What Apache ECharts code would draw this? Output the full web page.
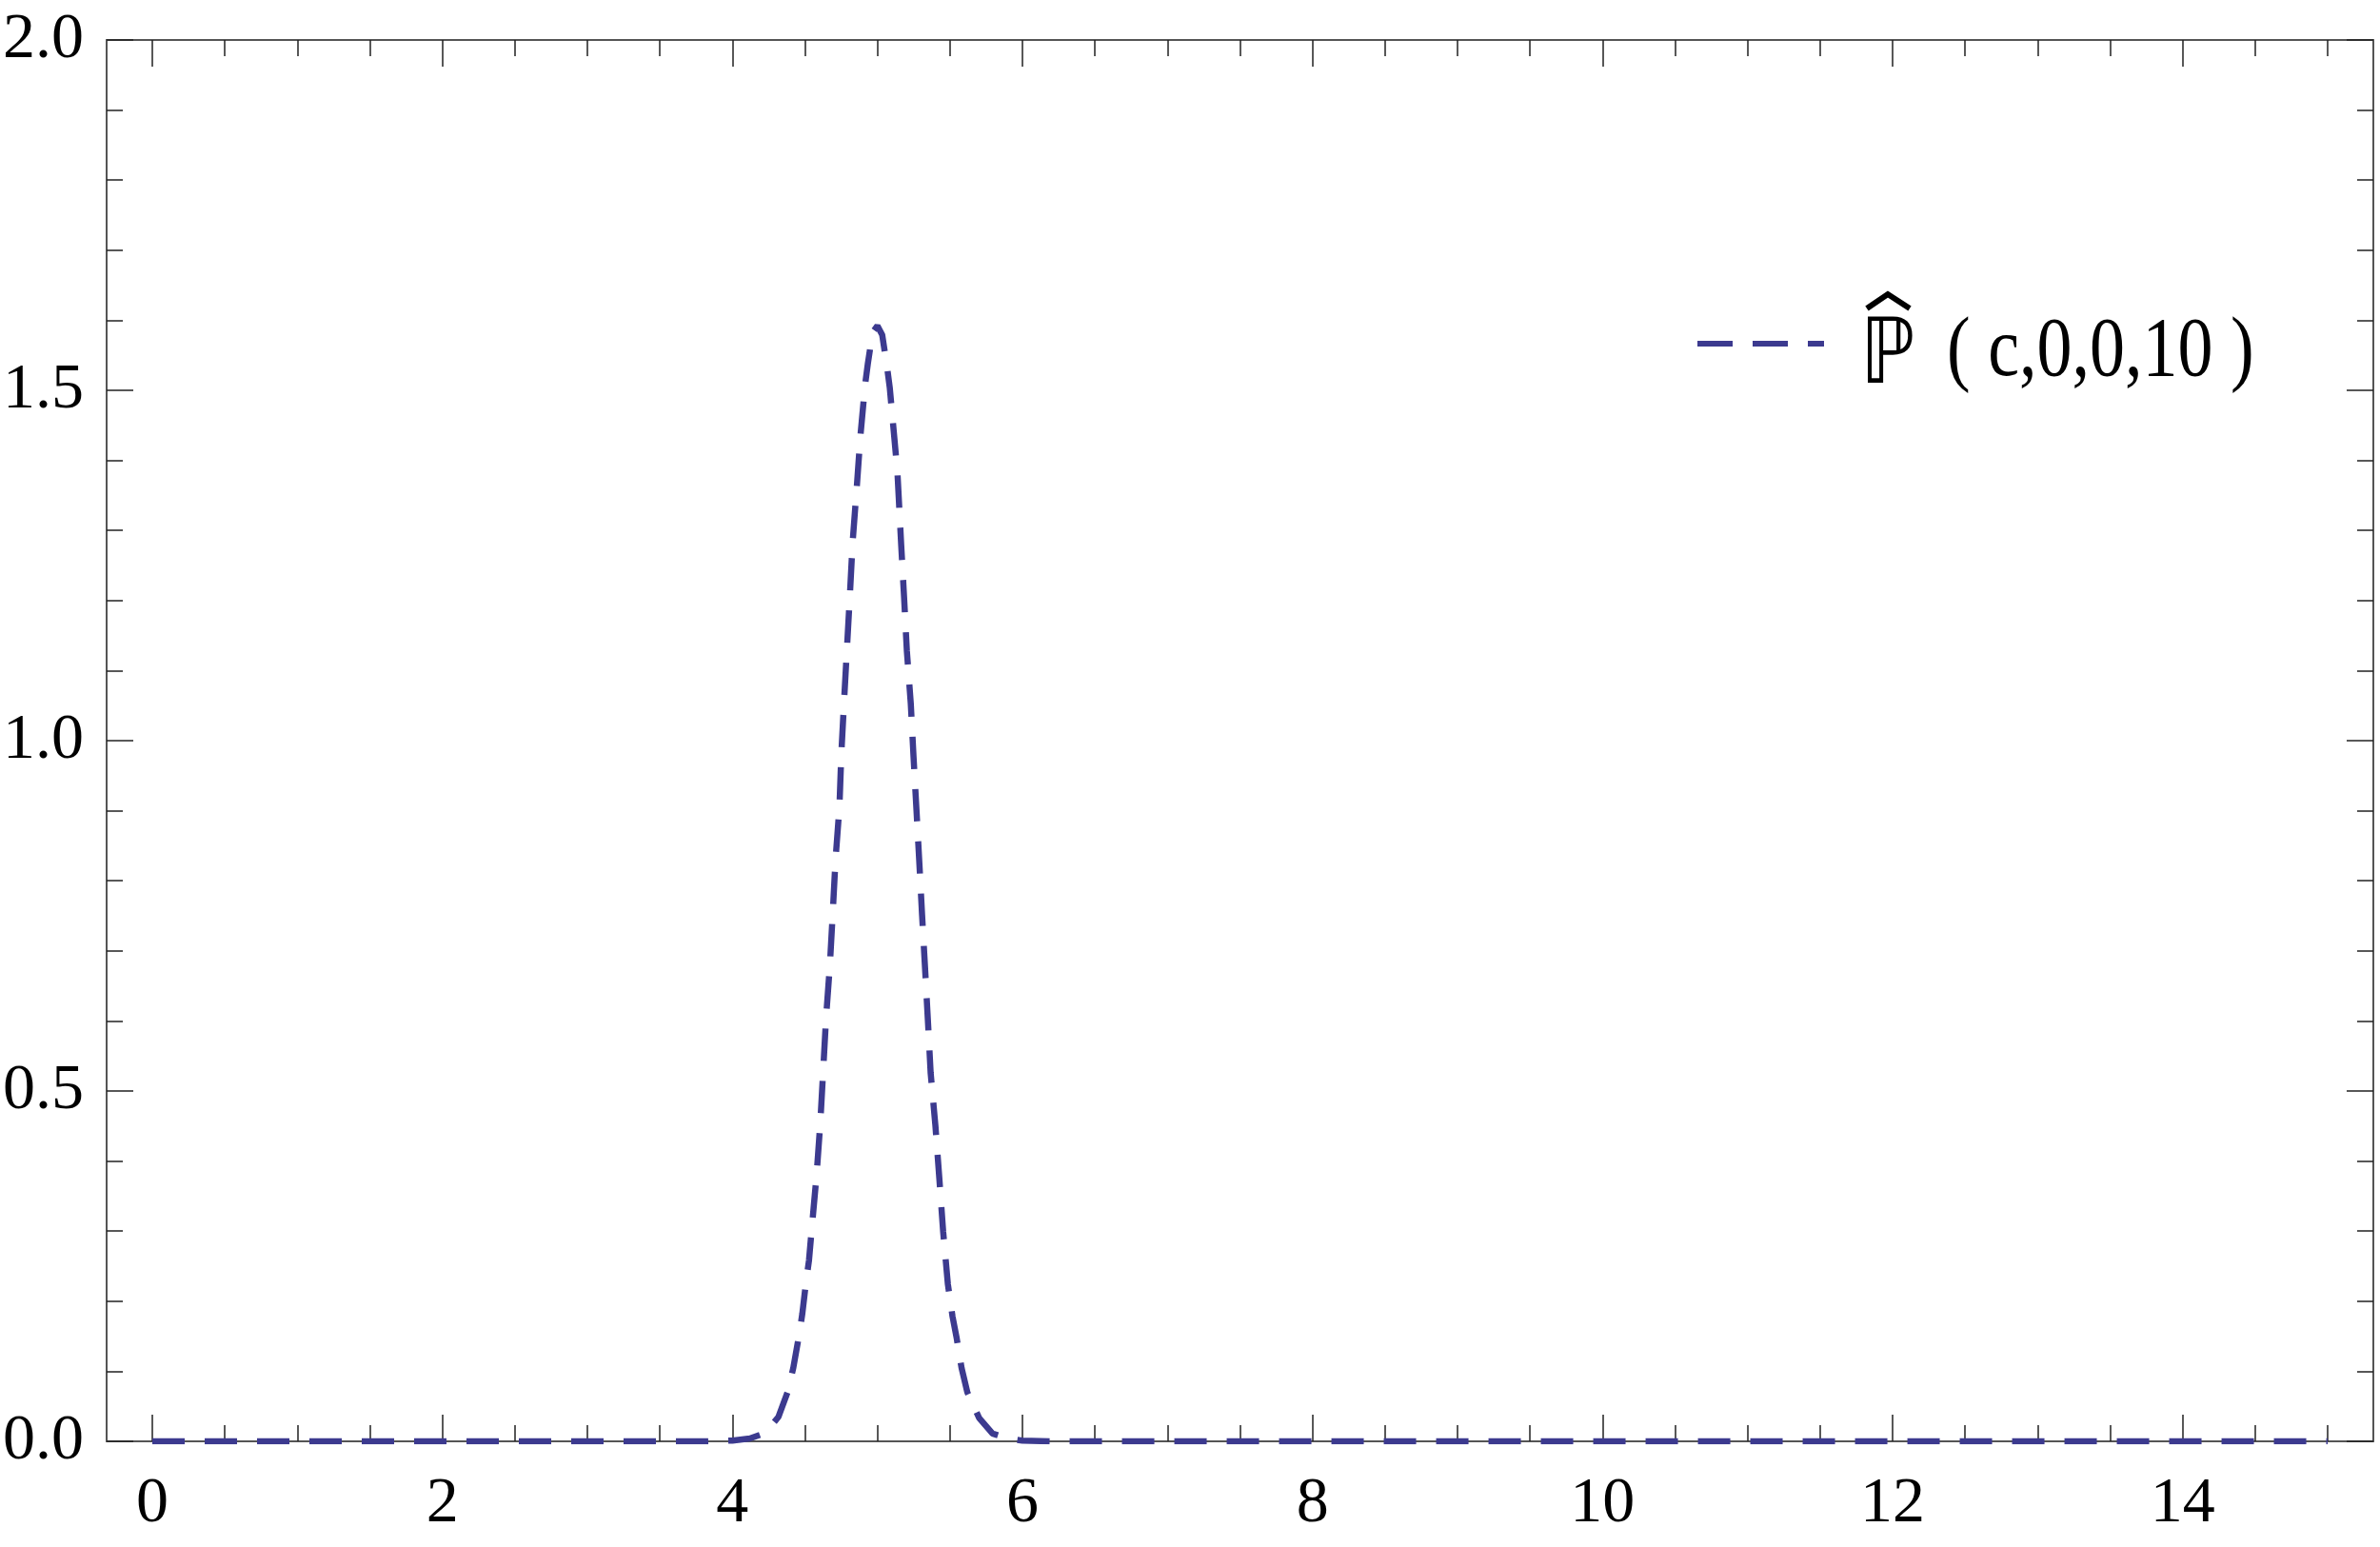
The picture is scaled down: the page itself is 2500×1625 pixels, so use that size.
<!DOCTYPE html>
<html>
<head>
<meta charset="utf-8">
<script src="https://cdn.jsdelivr.net/npm/echarts@6/dist/echarts.min.js"></script>
<style>
    html, body { margin: 0; padding: 0; background: #fff; }
    #chart { width: 2500px; height: 1625px; }
</style>
</head>
<body>
<div id="chart"></div>
<script>
// values
const xVals = [0, 2, 3.8, 4.0, 4.12, 4.226, 4.318, 4.38, 4.42, 4.462, 4.482, 4.508, 4.528, 4.547, 4.56, 4.58, 4.606, 4.626, 4.646, 4.672, 4.692, 4.711, 4.738, 4.751, 4.77, 4.79, 4.81, 4.829, 4.856, 4.882, 4.915, 4.934, 4.967, 5.0,
    5.033, 5.066, 5.085, 5.118, 5.138, 5.164, 5.184, 5.203, 5.23, 5.249, 5.269, 5.289, 5.308, 5.328, 5.348, 5.367, 5.4, 5.427, 5.453, 5.486, 5.518, 5.545, 5.58, 5.62, 5.702, 5.794, 5.9, 6.0, 6.2, 10, 15];
const yVals = [0, 0, 0, 0.001, 0.004, 0.012, 0.035, 0.07, 0.105, 0.154, 0.182, 0.228, 0.258, 0.303, 0.333, 0.379, 0.454, 0.529, 0.605, 0.679, 0.754, 0.83, 0.905, 0.981, 1.056, 1.132, 1.207, 1.283, 1.357, 1.433, 1.508, 1.538, 1.583, 1.592,
    1.579, 1.534, 1.504, 1.429, 1.383, 1.279, 1.204, 1.128, 1.053, 0.977, 0.902, 0.826, 0.751, 0.677, 0.601, 0.526, 0.45, 0.375, 0.3, 0.224, 0.178, 0.149, 0.105, 0.07, 0.033, 0.011, 0.004, 0.001, 0, 0, 0];
const xTicks = [0, 2, 4, 6, 8, 10, 12, 14];
const xMinorTicks = [0.5, 1, 1.5, 2.5, 3, 3.5, 4.5, 5, 5.5, 6.5, 7, 7.5, 8.5, 9, 9.5, 10.5, 11, 11.5, 12.5, 13, 13.5, 14.5, 15];
const seriesName = 'P(c,0,0,10)';
const legendSymbol = '\u2119';
const legendArgs = '( c,0,0,10 )';

const chart = echarts.init(document.getElementById('chart'));

const axisColor = '#555';
const lineColor = '#3c3a8f';
const serif = 'Liberation Serif';

const xMajor = (position, showLabel) => ({
    type: 'value',
    position: position,
    min: -0.315,
    max: 15.315,
    splitLine: { show: false },
    axisLine: { show: true, onZero: false, lineStyle: { color: axisColor, width: 2 } },
    axisTick: { show: true, inside: true, length: 28, customValues: xTicks, lineStyle: { color: '#222', width: 1.5 } },
    axisLabel: {
        show: showLabel,
        customValues: xTicks,
        margin: 32,
        fontFamily: serif,
        fontSize: 68,
        color: '#000'
    }
});

const xMinor = (position) => ({
    type: 'value',
    position: position,
    min: -0.315,
    max: 15.315,
    splitLine: { show: false },
    axisLine: { show: false, onZero: false },
    axisTick: { show: true, inside: true, length: 17, customValues: xMinorTicks, lineStyle: { color: '#222', width: 1.5 } },
    axisLabel: { show: false }
});

const yAxisDef = (position, showLabel) => ({
    type: 'value',
    position: position,
    min: 0,
    max: 2,
    interval: 0.5,
    splitLine: { show: false },
    axisLine: { show: true, onZero: false, lineStyle: { color: axisColor, width: 2 } },
    axisTick: { show: true, inside: true, length: 28, lineStyle: { color: '#222', width: 1.5 } },
    minorTick: { show: true, splitNumber: 5, length: 17, lineStyle: { color: '#222', width: 1.5 } },
    axisLabel: {
        show: showLabel,
        margin: 24,
        fontFamily: serif,
        fontSize: 68,
        color: '#000',
        formatter: v => v.toFixed(1)
    }
});

const option = {
    backgroundColor: '#fff',
    animation: false,
    grid: { left: 111, right: 7, top: 42, bottom: 111, containLabel: false },
    legend: {
        data: [seriesName],
        left: 1780,
        top: 351,
        padding: 0,
        itemWidth: 133,
        itemHeight: 20,
        itemStyle: { opacity: 0 },
        lineStyle: { type: [37, 21], width: 6, color: lineColor },
        formatter: () => '',
        textStyle: { fontSize: 10 }
    },
    // legend label, a little stretched vertically as in the reference
    graphic: [
        {
            type: 'polyline',
            shape: { points: [[1961, 324], [1983, 309], [2006, 324]] },
            style: { stroke: '#000', lineWidth: 6, fill: null, lineJoin: 'miter' }
        },
        {
            type: 'text',
            x: 1954,
            y: 377,
            scaleY: 1.16,
            style: {
                text: legendSymbol,
                font: '82px "DejaVu Sans"',
                fill: '#000',
                align: 'left',
                verticalAlign: 'middle'
            }
        },
        {
            type: 'text',
            x: 2045,
            y: 370,
            scaleY: 1.21,
            style: {
                text: legendArgs,
                font: '74px "Liberation Serif"',
                fill: '#000',
                align: 'left',
                verticalAlign: 'middle'
            }
        }
    ],
    xAxis: [xMajor('bottom', true), xMinor('bottom'), xMajor('top', false), xMinor('top')],
    yAxis: [yAxisDef('left', true), yAxisDef('right', false)],
    series: [
        {
            name: seriesName,
            type: 'line',
            xAxisIndex: 0,
            yAxisIndex: 0,
            showSymbol: false,
            symbol: 'none',
            smooth: false,
            data: xVals.map((x, i) => [x, yVals[i]]),
            itemStyle: { color: lineColor },
            lineStyle: { color: lineColor, width: 6.5, type: [34, 21] }
        }
    ]
};

chart.setOption(option);
</script>
</body>
</html>
